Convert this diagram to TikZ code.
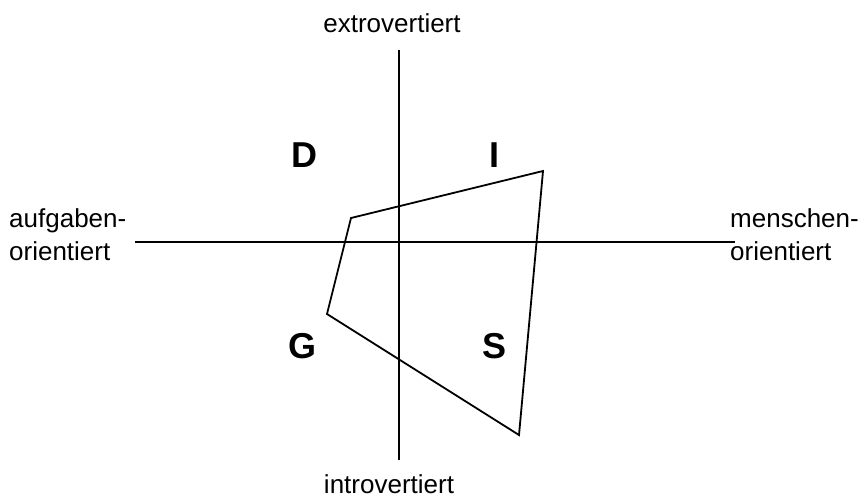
\documentclass[tikz,border=0pt]{standalone}
\usepackage{fontspec}
\setmainfont{Liberation Sans}
\usetikzlibrary{positioning}
\definecolor{Ink}{HTML}{000000}
\newcommand{\axisfont}{\fontsize{26}{33}\selectfont}
\newcommand{\typefont}{\bfseries\fontsize{36}{40}\selectfont}
\tikzset{
  % Axis labels and DISG quadrant letters.
  axis label/.style={
    font=\axisfont,
    text=Ink,
    inner sep=0pt
  },
  type letter/.style={
    font=\typefont,
    text=Ink,
    inner sep=0pt
  },
  axis line/.style={
    draw=Ink,
    line width=1.8pt
  },
  profile line/.style={
    draw=Ink,
    line width=1.8pt,
    line join=miter
  }
}
\begin{document}
\begin{tikzpicture}[x=1pt,y=-1pt]
\useasboundingbox (0,0) rectangle (865,499);

% ---------------------------------------------------------------------------
% Axes
% ---------------------------------------------------------------------------
\coordinate (axisTop) at (399,50);
\coordinate (axisBottom) at (399,460);
\coordinate (axisLeft) at (135,242);
\coordinate (axisRight) at (735,242);

\draw[axis line] (axisTop) -- (axisBottom);
\draw[axis line] (axisLeft) -- (axisRight);

\node[axis label, anchor=base] (extro) at (392,32) {extrovertiert};
\node[axis label, anchor=base] (intro) at (389,493) {introvertiert};

\node[axis label, anchor=base west] (taskA) at (9,227) {aufgaben-};
\node[axis label, anchor=base west] (taskB) at (9,260) {orientiert};
\node[axis label, anchor=base west] (peopleA) at (730,227) {menschen-};
\node[axis label, anchor=base west] (peopleB) at (730,260) {orientiert};

% ---------------------------------------------------------------------------
% Quadrant letters
% ---------------------------------------------------------------------------
\node[type letter] (typeD) at (304,155) {D};
\node[type letter] (typeI) at (494.5,155) {I};
\node[type letter] (typeG) at (302.5,346.5) {G};
\node[type letter] (typeS) at (495,346) {S};

% ---------------------------------------------------------------------------
% Profile shape
% ---------------------------------------------------------------------------
\coordinate (profD) at (351,218);
\coordinate (profI) at (543,171);
\coordinate (profS) at (519,435);
\coordinate (profG) at (327,314);

\draw[profile line] (profD) -- (profI) -- (profS) -- (profG) -- cycle;

\end{tikzpicture}
\end{document}
